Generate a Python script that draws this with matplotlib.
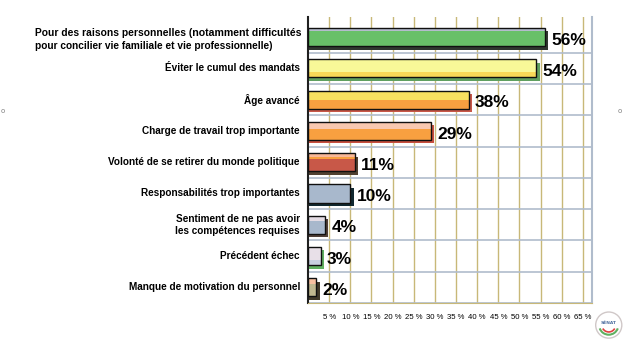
import matplotlib
matplotlib.use('Agg')
import matplotlib.pyplot as plt
from matplotlib.patches import Rectangle, Circle, Arc

# Reasons given, top to bottom, with their share of answers (%)
categories = [
    "Pour des raisons personnelles",
    "Éviter le cumul des mandats",
    "Âge avancé",
    "Charge de travail trop importante",
    "Volonté de se retirer du monde politique",
    "Responsabilités trop importantes",
    "Sentiment de ne pas avoir\nles compétences requises",
    "Précédent échec",
    "Manque de motivation du personnel",
]
values = [56, 54, 38, 29, 11, 10, 4, 3, 2]
tick_values = list(range(5, 70, 5))
tick_labels = [f"{v} %" for v in tick_values]

# colour bands of each bar face (top to bottom) and its shadow colour
face_bands = [
    [(0.18, "#b4bccc"), (0.82, "#68c068")],
    [(0.7, "#f8f898"), (0.3, "#f8d858")],
    [(0.5, "#f8e060"), (0.5, "#f8a040")],
    [(0.4, "#f8c8b0"), (0.6, "#f8a040")],
    [(0.22, "#f8b898"), (0.1, "#f8a040"), (0.68, "#c85848")],
    [(1.0, "#a8b8cc")],
    [(0.3, "#e4dce4"), (0.7, "#a8b8cc")],
    [(0.7, "#e8e0e8"), (0.3, "#c8d0e0")],
    [(0.3, "#f8c0a0"), (0.7, "#c0b890")],
]
shadow_colors = ["#303830", "#60a060", "#c85848", "#c85040", "#504030",
                 "#102830", "#504038", "#60b060", "#403828"]

fig = plt.figure(figsize=(6.25, 3.44), dpi=100)
ax = fig.add_axes([0.4928, 0.1192, 0.4539, 0.8314])

n = len(categories)
ax.set_xlim(0, 67.1)
ax.set_ylim(n - 0.5, -0.64)

# grid: tan verticals, grey-blue horizontals
for v in tick_values:
    ax.axvline(v, color="#c8b878", lw=1, zorder=0)
for i in range(n):
    ax.axhline(i + 0.5, color="#b0bccc", lw=1.2, zorder=0)

bar_h = 0.58
dx, dy = 0.8, 0.11
for i, (val, bands) in enumerate(zip(values, face_bands)):
    top = i - bar_h / 2
    # shadow / depth
    ax.add_patch(Rectangle((0.3, top + dy), val + dx - 0.3, bar_h,
                           facecolor=shadow_colors[i], edgecolor="none", zorder=2))
    y = top
    for frac, col in bands:
        ax.add_patch(Rectangle((0, y), val, bar_h * frac,
                               facecolor=col, edgecolor="none", zorder=3))
        y += bar_h * frac
    ax.add_patch(Rectangle((0, top), val, bar_h, facecolor="none",
                           edgecolor="#101010", lw=1, zorder=4))
    ax.text(val + 1.5, i + 0.1, f"{val}%", ha="left", va="center",
            fontsize=12.5, fontweight="bold", family="Liberation Sans",
            color="black", zorder=5)

# category labels
ax.set_yticks([])
label_x = -1.9
for i, cat in enumerate(categories):
    if i == 0:
        continue
    ax.text(label_x, i, cat, ha="right", va="center", fontsize=7.2,
            fontweight="bold", family="Liberation Sans", linespacing=1.3)

# first label: two sizes on line one, second line starts under line one
t_b = ax.text(label_x + 0.4, 0.02, " (notamment difficultés", ha="right",
              va="bottom", fontsize=7.6, fontweight="bold",
              family="Liberation Sans")
t_a = ax.annotate(categories[0], xy=(0, 0), xycoords=t_b, ha="right",
                  va="bottom", fontsize=7.4, fontweight="bold",
                  family="Liberation Sans")
ax.annotate("pour concilier vie familiale et vie professionnelle)",
            xy=(0, 0), xycoords=t_a, xytext=(0, -8),
            textcoords="offset points", ha="left", va="baseline",
            fontsize=7.3, fontweight="bold", family="Liberation Sans")

ax.set_xticks(tick_values)
ax.set_xticklabels(tick_labels, fontsize=5.6, family="Liberation Sans")
ax.tick_params(axis="x", length=0, pad=8)

ax.spines["top"].set_visible(False)
ax.spines["left"].set_color("#202020")
ax.spines["left"].set_linewidth(1.5)
ax.spines["right"].set_color("#b0bccc")
ax.spines["right"].set_linewidth(1.5)
ax.spines["bottom"].set_color("#c8b878")

# small markers at the page edges
fig.text(0.004, 0.677, "o", fontsize=5, color="#808080", ha="center", va="center")
fig.text(0.992, 0.677, "o", fontsize=5, color="#808080", ha="center", va="center")

# round emblem, bottom right
lg = fig.add_axes([0.952, 0.015, 0.044, 0.08])
lg.set_xlim(-1, 1)
lg.set_ylim(-1, 1)
lg.set_aspect("equal")
lg.axis("off")
lg.add_patch(Circle((0, 0), 0.95, facecolor="white", edgecolor="#d0c8c8", lw=1))
lg.add_patch(Arc((0, 0), 1.4, 1.4, theta1=200, theta2=340, color="#60b060", lw=1.5))
lg.add_patch(Arc((0, 0), 1.0, 1.0, theta1=210, theta2=330, color="#e04040", lw=1.2))
lg.text(0, 0.15, "SÉNAT", fontsize=3.2, color="#5070a0", ha="center", va="center",
        fontweight="bold")

fig.savefig("out.png", dpi=100)
plt.close(fig)
